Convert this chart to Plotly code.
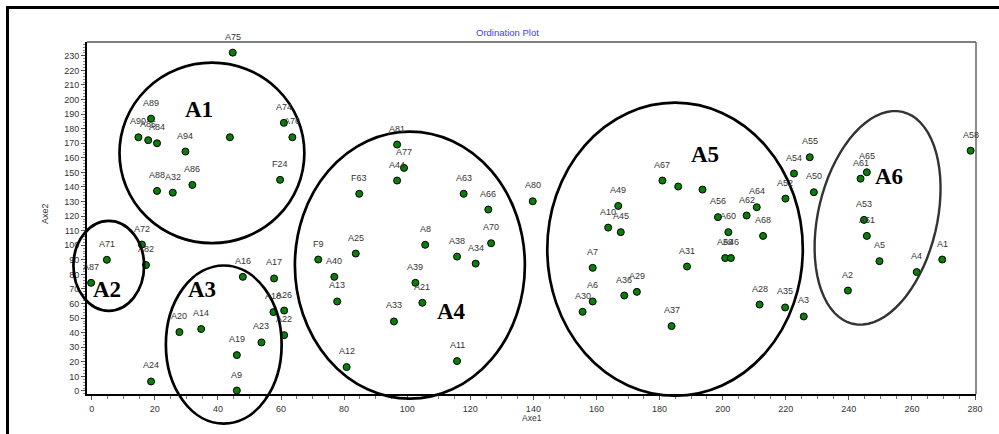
import math
import plotly.graph_objects as go

# ---------------- data ----------------
labels = ["A75", "A89", "A90", "A85", "A84", "A94", "", "A74", "A76", "F24", "A88", "A32", "A86",
          "A72", "A71", "A82", "A87",
          "A16", "A17", "A18", "A26", "A22", "A20", "A14", "A23", "A19", "A24", "A9",
          "F9", "A40", "A81", "A77", "A44", "F63", "A63", "A66", "A80", "A8", "A70", "A38", "A34",
          "A25", "A13", "A39", "A21", "A33", "A12", "A11",
          "A67", "", "", "A49", "A10", "A45", "A56", "A60", "A62", "A64", "A68", "A52", "A54", "A55",
          "A59", "A46", "A31", "A7", "A6", "A30", "A36", "A29", "A37", "A28", "A35",
          "A58", "A50", "A65", "A61", "A53", "A51", "A5", "A4", "A1", "A2", "A3"]
axe1 = [44.7, 18.8, 14.8, 17.9, 20.7, 29.7, 43.8, 60.9, 63.6, 59.7, 20.7, 25.7, 31.9,
        15.9, 4.8, 17.2, -0.2,
        47.9, 57.8, 57.6, 61.0, 61.0, 27.8, 34.7, 53.8, 46.0, 18.8, 46.0,
        71.8, 76.9, 96.8, 99.0, 96.8, 84.8, 117.9, 125.7, 139.8, 105.7, 126.6, 115.8, 121.7,
        83.7, 77.8, 102.6, 104.8, 95.8, 80.8, 115.8,
        180.9, 185.9, 193.6, 166.9, 163.7, 167.7, 198.5, 201.8, 207.6, 210.8, 212.8, 219.9, 222.6, 227.6,
        200.8, 202.6, 188.7, 158.8, 158.8, 155.6, 168.8, 172.8, 183.8, 211.7, 219.8,
        278.6, 228.9, 245.7, 243.7, 244.8, 245.7, 249.7, 261.5, 269.6, 239.7, 225.7]
axe2 = [232.2, 186.9, 174.1, 172.1, 170.0, 164.3, 174.1, 184.0, 174.1, 144.9, 137.3, 136.1, 141.4,
        100.5, 90.0, 86.4, 74.2,
        78.3, 77.2, 54.1, 55.2, 38.3, 40.4, 42.5, 33.3, 24.6, 6.5, 0.3,
        90.2, 78.3, 169.1, 153.1, 144.4, 135.3, 135.3, 124.5, 130.2, 100.3, 101.4, 92.2, 87.4,
        94.3, 61.4, 74.2, 60.5, 47.7, 16.4, 20.5,
        144.4, 140.3, 138.2, 127.0, 112.1, 109.0, 119.3, 109.0, 120.4, 126.1, 106.4, 132.0, 149.2, 160.4,
        91.2, 91.2, 85.4, 84.5, 61.4, 54.3, 65.5, 68.0, 44.5, 59.3, 57.3,
        164.9, 136.4, 150.1, 145.7, 117.4, 106.4, 89.1, 81.6, 90.2, 68.9, 51.1]

x_ticks = list(range(0, 281, 20))
y_ticks = list(range(0, 231, 10))

cluster_names = ["A1", "A2", "A3", "A4", "A5", "A6"]
cluster_x = [34.0, 4.8, 35.1, 114.1, 194.5, 252.7]
cluster_y = [192.9, 69.9, 69.9, 54.5, 162.0, 147.1]
# bounding boxes of the (axis-aligned) cluster ellipses, data units: x0, x1, y0, y1
cluster_boxes = [(8.8, 67.4, 101.4, 225.3),
                 (-5.8, 16.6, 55.0, 116.7),
                 (23.5, 60.2, -22.5, 86.1),
                 (64.4, 137.3, -5.3, 178.0),
                 (144.4, 225.4, -3.3, 197.9)]
# tilted ellipse A6: centre (data)
tilt_center = (249.1, 118.8)

# ---------------- layout geometry ----------------
W, H = 999, 434
ML, MR, MT, MB = 87, 23, 42, 40
PW, PH = W - ML - MR, H - MT - MB
X_RANGE = [-1.5, 280.3]
Y_RANGE = [-2.1, 239.5]


def paper_x(x):
    return (x - X_RANGE[0]) / (X_RANGE[1] - X_RANGE[0])


def paper_y(y):
    return (y - Y_RANGE[0]) / (Y_RANGE[1] - Y_RANGE[0])


def pix_to_paper_x(px):
    return (px - ML) / PW


def pix_to_paper_y(py):
    return (H - MB - py) / PH


fig = go.Figure()

fig.add_trace(go.Scatter(
    x=axe1, y=axe2, mode="markers",
    marker=dict(size=7, color="#0a7d0a", line=dict(color="black", width=1)),
    hoverinfo="text", text=labels, showlegend=False, cliponaxis=False,
))

annotations = []
for lab, xv, yv in zip(labels, axe1, axe2):
    if not lab:
        continue
    annotations.append(dict(x=xv, y=yv, xref="x", yref="y", text=lab, showarrow=False,
                            xanchor="center", yanchor="middle",
                            yshift=16, font=dict(family="Liberation Sans, Arial", size=9, color="#333")))

for name, cx, cy in zip(cluster_names, cluster_x, cluster_y):
    annotations.append(dict(x=cx, y=cy, xref="x", yref="y", text="<b>" + name + "</b>", showarrow=False,
                            xanchor="center", yanchor="middle",
                            font=dict(family="Liberation Serif, Times New Roman", size=23, color="black")))

annotations.append(dict(x=pix_to_paper_x(507), y=pix_to_paper_y(32), xref="paper", yref="paper",
                        xanchor="center", yanchor="middle",
                        text="Ordination Plot", showarrow=False,
                        font=dict(family="Liberation Sans, Arial", size=9.5, color="#3b3bff")))
annotations.append(dict(x=pix_to_paper_x(532), y=pix_to_paper_y(418), xref="paper", yref="paper",
                        xanchor="center", yanchor="middle", borderpad=0,
                        text="Axe1", showarrow=False,
                        font=dict(family="Liberation Sans, Arial", size=8.5, color="#333")))
annotations.append(dict(x=pix_to_paper_x(45), y=pix_to_paper_y(214), xref="paper", yref="paper",
                        xanchor="center", yanchor="middle",
                        text="Axe2", showarrow=False, textangle=-90,
                        font=dict(family="Liberation Sans, Arial", size=9, color="#333")))

shapes = []
for (x0, x1, y0, y1) in cluster_boxes:
    shapes.append(dict(type="circle", xref="paper", yref="paper",
                       x0=paper_x(x0), x1=paper_x(x1), y0=paper_y(y0), y1=paper_y(y1),
                       line=dict(color="black", width=2.7)))

# tilted ellipse A6 (computed in pixel space, then mapped to paper)
sx = PW / (X_RANGE[1] - X_RANGE[0])
sy = PH / (Y_RANGE[1] - Y_RANGE[0])
cpx = ML + (tilt_center[0] - X_RANGE[0]) * sx
cpy = H - MB - (tilt_center[1] - Y_RANGE[0]) * sy
a, b = 109.0, 59.5
ux, uy = 0.229, -0.972
vx, vy = 0.972, 0.229
pts = []
for i in range(73):
    t = 2 * math.pi * i / 72
    ppx = cpx + a * math.cos(t) * ux + b * math.sin(t) * vx
    ppy = cpy + a * math.cos(t) * uy + b * math.sin(t) * vy
    pts.append((pix_to_paper_x(ppx), pix_to_paper_y(ppy)))
path = "M " + " L ".join(f"{p[0]:.5f},{p[1]:.5f}" for p in pts) + " Z"
shapes.append(dict(type="path", xref="paper", yref="paper", path=path,
                   line=dict(color="#333", width=2.4)))

# plot frame top/right (gray)
shapes.append(dict(type="line", xref="paper", yref="paper", x0=0, x1=1, y0=1, y1=1,
                   line=dict(color="#555", width=1.5)))
shapes.append(dict(type="line", xref="paper", yref="paper", x0=1, x1=1, y0=0, y1=1,
                   line=dict(color="#666", width=1.5)))
# outer black frame (top and left)
shapes.append(dict(type="line", xref="paper", yref="paper",
                   x0=pix_to_paper_x(6), x1=pix_to_paper_x(1000), y0=pix_to_paper_y(7.5), y1=pix_to_paper_y(7.5),
                   line=dict(color="black", width=3)))
shapes.append(dict(type="line", xref="paper", yref="paper",
                   x0=pix_to_paper_x(7.5), x1=pix_to_paper_x(7.5), y0=pix_to_paper_y(6), y1=pix_to_paper_y(440),
                   line=dict(color="black", width=3)))

axis_font = dict(family="Liberation Sans, Arial", size=9, color="#333")
fig.update_layout(
    width=W, height=H, autosize=False,
    margin=dict(l=ML, r=MR, t=MT, b=MB, pad=0),
    paper_bgcolor="white", plot_bgcolor="white",
    showlegend=False,
    xaxis=dict(range=X_RANGE, tickvals=x_ticks, ticktext=[str(v) for v in x_ticks],
               showgrid=False, zeroline=False, showline=True, linecolor="black", linewidth=2,
               ticks="outside", ticklen=4, tickwidth=1, tickcolor="#555", tickfont=axis_font,
               ticklabelstandoff=1,
               minor=dict(dtick=5, tick0=0, ticks="outside", ticklen=3, tickcolor="#777", showgrid=False)),
    yaxis=dict(range=Y_RANGE, tickvals=y_ticks, ticktext=[str(v) for v in y_ticks],
               showgrid=False, zeroline=False, showline=True, linecolor="black", linewidth=2,
               ticks="outside", ticklen=4, tickwidth=1, tickcolor="#555", tickfont=axis_font,
               minor=dict(dtick=2, tick0=0, ticks="outside", ticklen=2, tickcolor="#888", showgrid=False)),
    annotations=annotations,
    shapes=shapes,
)

fig.write_html("out.html", config={"displayModeBar": False},
               post_script="document.body.style.margin='0';document.body.style.overflow='hidden';")
